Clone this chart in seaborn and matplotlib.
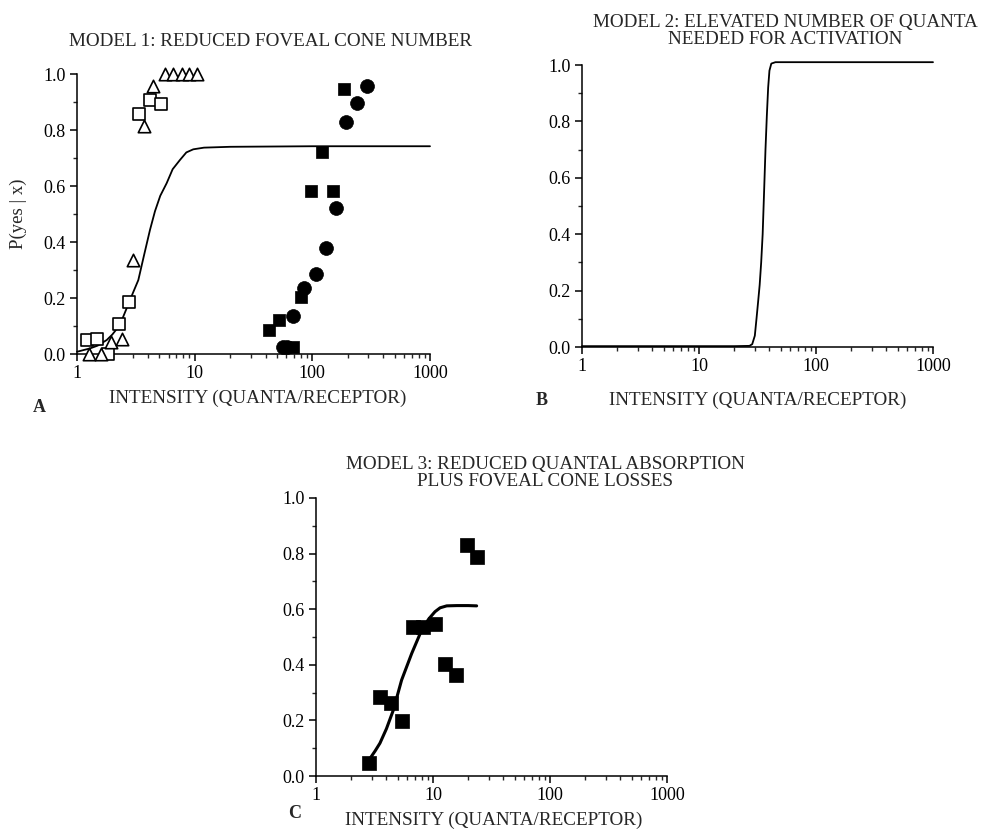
import numpy as np
import pandas as pd
import matplotlib
matplotlib.use("Agg")
import matplotlib.pyplot as plt
import seaborn as sns
from matplotlib.ticker import FixedLocator, FixedFormatter, LogLocator, NullFormatter, MultipleLocator, FormatStrFormatter

# ---------------- data ----------------
# Panel A (Model 1)
a_open_sq_x = [1.21, 1.49, 1.83, 2.28, 2.78, 3.38, 4.17, 5.14]
a_open_sq_y = [0.05, 0.055, 0.0, 0.107, 0.186, 0.857, 0.907, 0.892]
a_open_tri_x = [1.27, 1.60, 1.94, 2.41, 3.01, 3.71, 4.40, 5.6, 6.57, 7.76, 9.0, 10.4]
a_open_tri_y = [0.0, 0.0, 0.043, 0.055, 0.336, 0.814, 0.957, 1.0, 1.0, 1.0, 1.0, 1.0]
a_fill_sq_x = [43, 52.4, 68, 80, 96.6, 121, 151, 185]
a_fill_sq_y = [0.086, 0.121, 0.026, 0.205, 0.582, 0.722, 0.582, 0.946]
a_fill_circ_x = [56, 61.2, 68.8, 85, 107, 130, 159, 195, 238, 293]
a_fill_circ_y = [0.026, 0.026, 0.136, 0.235, 0.285, 0.377, 0.521, 0.83, 0.895, 0.958]
a_curve_x = [1.0, 1.29, 1.5, 1.79, 2.0, 2.28, 2.47, 2.78, 3.0, 3.32, 3.7, 4.17, 4.6, 5.1, 5.78, 6.5, 7.5, 8.5, 9.73, 12, 20, 100, 1000]
a_curve_y = [0.008, 0.02, 0.03, 0.05, 0.07, 0.10, 0.133, 0.186, 0.22, 0.264, 0.35, 0.443, 0.51, 0.565, 0.61, 0.66, 0.693, 0.72, 0.731, 0.737, 0.74, 0.742, 0.742]

# Panel B (Model 2)
b_curve_x = [1.0, 10, 20, 27, 28.5, 30, 31, 32, 33, 34, 35, 36, 37, 38, 39, 40, 41.5, 45, 100, 1000]
b_curve_y = [0.003, 0.003, 0.003, 0.004, 0.01, 0.04, 0.10, 0.16, 0.22, 0.30, 0.40, 0.55, 0.70, 0.82, 0.92, 0.98, 1.005, 1.01, 1.01, 1.01]

# Panel C (Model 3)
c_sq_x = [2.84, 3.52, 4.35, 5.39, 6.79, 8.27, 10.3, 12.7, 15.7, 19.7, 23.9]
c_sq_y = [0.046, 0.283, 0.262, 0.199, 0.535, 0.535, 0.547, 0.403, 0.363, 0.831, 0.787]
c_curve_x = [2.84, 3.2, 3.52, 4.0, 4.58, 5.39, 6.58, 8.0, 9.2, 10.4, 11.5, 13.1, 16, 20, 23.6]
c_curve_y = [0.058, 0.09, 0.118, 0.17, 0.237, 0.345, 0.441, 0.525, 0.565, 0.591, 0.605, 0.612, 0.613, 0.613, 0.612]

x_tick_vals = [1, 10, 100, 1000]
x_tick_labels = ["1", "10", "100", "1000"]
titles = ["MODEL 1: REDUCED FOVEAL CONE NUMBER",
          "MODEL 2: ELEVATED NUMBER OF QUANTA\nNEEDED FOR ACTIVATION",
          "MODEL 3: REDUCED QUANTAL ABSORPTION\nPLUS FOVEAL CONE LOSSES"]
x_label = "INTENSITY (QUANTA/RECEPTOR)"
y_label = "P(yes | x)"
panel_letters = ["A", "B", "C"]

# ---------------- style ----------------
sns.set_style("ticks")
plt.rcParams["font.family"] = ["Liberation Serif", "DejaVu Serif"]
plt.rcParams["axes.linewidth"] = 1.1
FS_TICK = 13
FS_TITLE = 13.8
FS_LABEL = 13.8

W, H = 991, 830
fig = plt.figure(figsize=(W / 100, H / 100), dpi=100)


def px_axes(x0, x1, ytop, ybot):
    return fig.add_axes([x0 / W, 1 - ybot / H, (x1 - x0) / W, (ybot - ytop) / H])


axA = px_axes(77, 430, 74, 354)
axB = px_axes(582, 933, 65, 347)
axC = px_axes(316, 667, 498, 776)


def style(ax):
    ax.set_xscale("log")
    ax.set_xlim(1, 1000)
    ax.set_ylim(0, 1)
    sns.despine(ax=ax)
    ax.xaxis.set_major_locator(FixedLocator(x_tick_vals))
    ax.xaxis.set_major_formatter(FixedFormatter(x_tick_labels))
    ax.xaxis.set_minor_locator(LogLocator(base=10, subs=np.arange(2, 10)))
    ax.xaxis.set_minor_formatter(NullFormatter())
    ax.yaxis.set_major_locator(MultipleLocator(0.2))
    ax.yaxis.set_minor_locator(MultipleLocator(0.1))
    ax.yaxis.set_major_formatter(FormatStrFormatter("%.1f"))
    ax.tick_params(which="major", direction="out", length=5, width=1.1, labelsize=FS_TICK, pad=3, colors="black")
    ax.tick_params(which="minor", direction="out", length=3, width=1.0)
    ax.set_xlabel("")
    ax.set_ylabel("")
    for sp in ax.spines.values():
        sp.set_color("black")


ms = 80
# Panel A
dA = pd.DataFrame({"x": a_curve_x, "y": a_curve_y})
sns.lineplot(data=dA, x="x", y="y", ax=axA, color="black", lw=1.3, clip_on=False)
sns.scatterplot(x=a_open_sq_x, y=a_open_sq_y, ax=axA, marker="s", s=ms, facecolor="white",
                edgecolor="black", linewidth=1.2, clip_on=False, zorder=3)
sns.scatterplot(x=a_open_tri_x, y=a_open_tri_y, ax=axA, marker="^", s=ms, facecolor="white",
                edgecolor="black", linewidth=1.2, clip_on=False, zorder=3)
sns.scatterplot(x=a_fill_sq_x, y=a_fill_sq_y, ax=axA, marker="s", s=ms, color="black",
                edgecolor="black", linewidth=0.5, clip_on=False, zorder=3)
sns.scatterplot(x=a_fill_circ_x, y=a_fill_circ_y, ax=axA, marker="o", s=ms + 20, color="black",
                edgecolor="black", linewidth=0.5, clip_on=False, zorder=3)
style(axA)

# Panel B
dB = pd.DataFrame({"x": b_curve_x, "y": b_curve_y})
sns.lineplot(data=dB, x="x", y="y", ax=axB, color="black", lw=1.3, clip_on=False)
style(axB)

# Panel C
dC = pd.DataFrame({"x": c_curve_x, "y": c_curve_y})
sns.lineplot(data=dC, x="x", y="y", ax=axC, color="black", lw=2.2, clip_on=False)
sns.scatterplot(x=c_sq_x, y=c_sq_y, ax=axC, marker="s", s=ms + 10, color="black",
                edgecolor="black", linewidth=0.5, clip_on=False, zorder=3)
style(axC)

# titles
fig.text(271 / W, 1 - 41 / H, titles[0], ha="center", va="center", fontsize=FS_TITLE)
fig.text(785 / W, 1 - 31 / H, titles[1], ha="center", va="center", fontsize=FS_TITLE, linespacing=0.95)
fig.text(545 / W, 1 - 473 / H, titles[2], ha="center", va="center", fontsize=FS_TITLE, linespacing=0.95)

# x labels
fig.text(258 / W, 1 - 398 / H, x_label, ha="center", va="center", fontsize=FS_LABEL)
fig.text(758 / W, 1 - 400 / H, x_label, ha="center", va="center", fontsize=FS_LABEL)
fig.text(494 / W, 1 - 820 / H, x_label, ha="center", va="center", fontsize=FS_LABEL)

# y label
fig.text(18 / W, 1 - 214 / H, y_label, ha="center", va="center", rotation=90, fontsize=13.5)

# panel letters
fig.text(39 / W, 1 - 407 / H, panel_letters[0], ha="center", va="center", fontsize=13, fontweight="bold")
fig.text(542 / W, 1 - 400 / H, panel_letters[1], ha="center", va="center", fontsize=13, fontweight="bold")
fig.text(295 / W, 1 - 813 / H, panel_letters[2], ha="center", va="center", fontsize=13, fontweight="bold")

fig.savefig("out.png", dpi=100, facecolor="white")
